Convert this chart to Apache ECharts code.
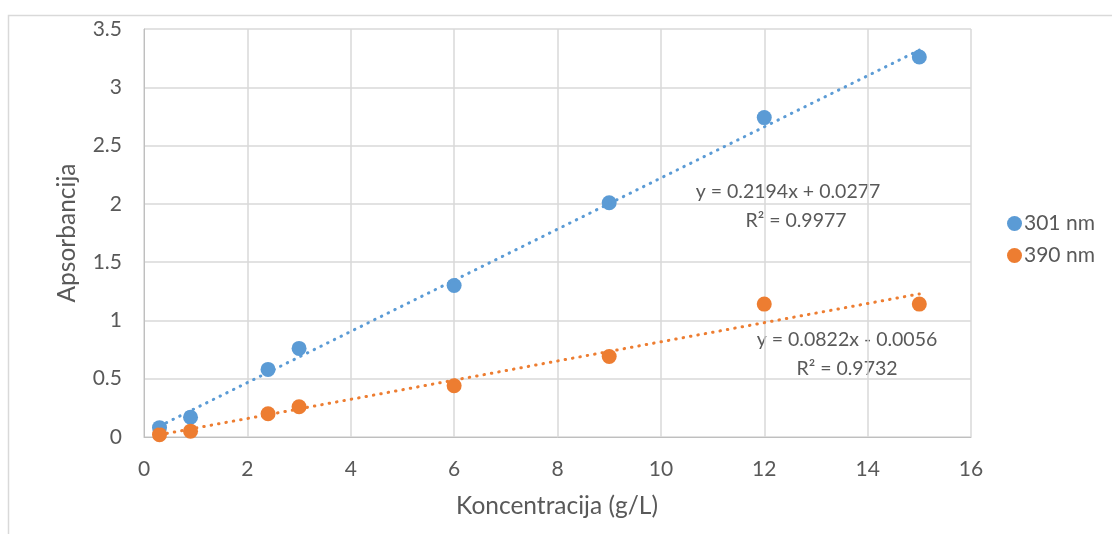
<!DOCTYPE html>
<html>
<head>
<meta charset="utf-8">
<script src="https://cdn.jsdelivr.net/npm/echarts@6/dist/echarts.min.js"></script>
<style>
html,body{margin:0;padding:0;background:#fff;}
#chart{width:1112px;height:534px;}
</style>
</head>
<body>
<div id="chart"></div>
<script>
// ---- data ----
const concentrations = [0.3, 0.9, 2.4, 3, 6, 9, 12, 15];
const abs301 = [0.08, 0.17, 0.58, 0.76, 1.30, 2.01, 2.74, 3.26];
const abs390 = [0.02, 0.05, 0.20, 0.26, 0.44, 0.69, 1.14, 1.14];
const seriesNames = ['301 nm', '390 nm'];
// trendline coefficients as shown on the chart [slope, intercept]
const trend301 = [0.2194, 0.0277];
const trend390 = [0.0822, -0.0056];
const eq301 = ['y = 0.2194x + 0.0277', 'R² = 0.9977'];
const eq390 = ['y = 0.0822x - 0.0056', 'R² = 0.9732'];
const xTitle = 'Koncentracija (g/L)';
const yTitle = 'Apsorbancija';

const BLUE = '#5B9BD5', ORANGE = '#ED7D31', TXT = '#595959';
const FONT = 'Lato, "Open Sans", sans-serif';

function pairs(xs, ys){ return xs.map((x,i)=>[x, ys[i]]); }
function trendPts(c){
  const x0 = concentrations[0], x1 = concentrations[concentrations.length-1];
  return [[x0, c[0]*x0 + c[1]], [x1, c[0]*x1 + c[1]]];
}

const chart = echarts.init(document.getElementById('chart'), null, {renderer:'canvas'});
const dotted = {width: 3, type: [0.5, 7], cap: 'round'};

chart.setOption({
  animation: false,
  backgroundColor: '#fff',
  textStyle: {fontFamily: FONT},
  grid: {left: 144, right: 141, top: 29, bottom: 97},
  xAxis: {
    type: 'value', min: 0, max: 16, interval: 2,
    axisLine: {show: true, lineStyle: {color: '#bfbfbf', width: 1}},
    axisTick: {show: false},
    axisLabel: {color: TXT, fontSize: 21, margin: 22, fontFamily: FONT},
    splitLine: {show: true, lineStyle: {color: '#d9d9d9', width: 1.5}}
  },
  yAxis: {
    type: 'value', min: 0, max: 3.5, interval: 0.5,
    axisLine: {show: true, lineStyle: {color: '#bfbfbf', width: 1}},
    axisTick: {show: false},
    axisLabel: {color: TXT, fontSize: 21, margin: 22, fontFamily: FONT},
    splitLine: {show: true, lineStyle: {color: '#d9d9d9', width: 1.5}}
  },
  legend: {
    data: seriesNames,
    orient: 'vertical',
    left: 1002, top: 208,
    itemWidth: 15, itemHeight: 15, itemGap: 11,
    icon: 'circle',
    textStyle: {color: TXT, fontSize: 21, fontFamily: FONT, padding: [0,0,0,-3]}
  },
  series: [
    {name: seriesNames[0], type: 'scatter', data: pairs(concentrations, abs301),
     symbolSize: 15, itemStyle: {color: BLUE, opacity: 1}, z: 2},
    {name: seriesNames[1], type: 'scatter', data: pairs(concentrations, abs390),
     symbolSize: 15, itemStyle: {color: ORANGE, opacity: 1}, z: 2},
    {name: 'trend301', type: 'line', data: trendPts(trend301), showSymbol: false,
     lineStyle: Object.assign({color: BLUE}, dotted), z: 3, silent: true},
    {name: 'trend390', type: 'line', data: trendPts(trend390), showSymbol: false,
     lineStyle: Object.assign({color: ORANGE}, dotted), z: 3, silent: true}
  ],
  graphic: [
    {type: 'rect', shape: {x: 8.5, y: 15.5, width: 1200, height: 600},
     style: {fill: 'none', stroke: '#d9d9d9', lineWidth: 1.5}, z: -1, silent: true},
    {type: 'text', x: 788, y: 192, style: {text: eq301[0], fill: TXT, font: '19.5px ' + FONT, textAlign: 'center', textVerticalAlign: 'middle'}},
    {type: 'text', x: 796, y: 221, style: {text: eq301[1], fill: TXT, font: '19.5px ' + FONT, textAlign: 'center', textVerticalAlign: 'middle'}},
    {type: 'text', x: 847, y: 340, style: {text: eq390[0], fill: TXT, font: '19.5px ' + FONT, textAlign: 'center', textVerticalAlign: 'middle'}},
    {type: 'text', x: 847, y: 369, style: {text: eq390[1], fill: TXT, font: '19.5px ' + FONT, textAlign: 'center', textVerticalAlign: 'middle'}},
    {type: 'text', x: 557, y: 506, style: {text: xTitle, fill: TXT, font: '24.5px ' + FONT, textAlign: 'center', textVerticalAlign: 'middle'}},
    {type: 'text', x: 67, y: 233, rotation: Math.PI/2, style: {text: yTitle, fill: TXT, font: '24.5px ' + FONT, textAlign: 'center', textVerticalAlign: 'middle'}}
  ]
});
</script>
</body>
</html>
